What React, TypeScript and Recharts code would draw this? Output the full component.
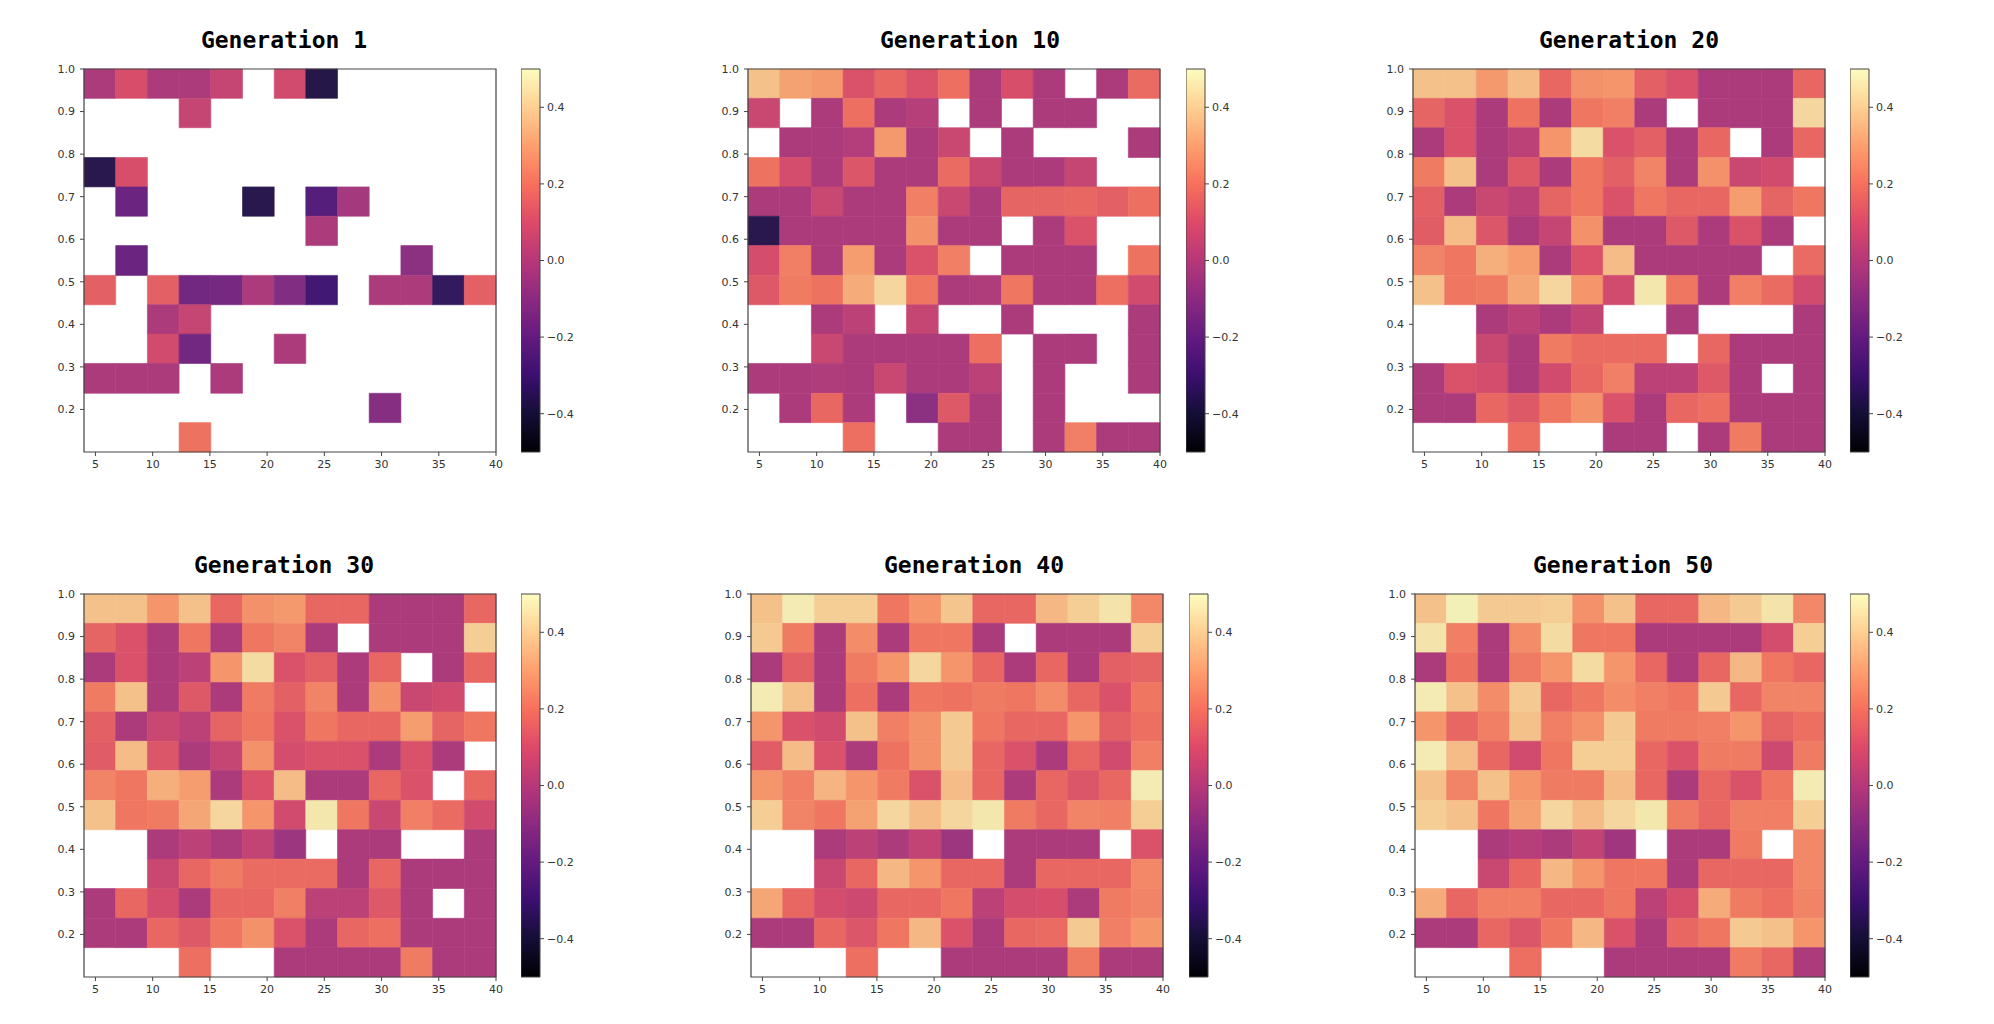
import React from "react";
import {
  ScatterChart,
  Scatter,
  XAxis,
  YAxis,
  ReferenceArea,
} from "recharts";

// grid edges (13 x 13 cells, x in [4, 40], y in [0.1, 1.0])
const X_EDGES = [4, 6.77, 9.54, 12.31, 15.08, 17.85, 20.62, 23.38, 26.15, 28.92, 31.69, 34.46, 37.23, 40];
const Y_EDGES = [1.0, 0.931, 0.862, 0.792, 0.723, 0.654, 0.585, 0.515, 0.446, 0.377, 0.308, 0.238, 0.169, 0.1];
const X_TICKS = [5, 10, 15, 20, 25, 30, 35, 40];
const Y_TICKS = [0.2, 0.3, 0.4, 0.5, 0.6, 0.7, 0.8, 0.9, 1.0];
const CB_TICKS = [-0.4, -0.2, 0, 0.2, 0.4];
const CB_RANGE = [-0.5, 0.5];

const _ = null;
const P = -0.02;

// rows listed top (y = 1.0) to bottom (y = 0.1)
const gen1 = [
  [P, 0.1, P, P, 0.05, _, 0.08, -0.38, _, _, _, _, _],
  [_, _, _, 0.05, _, _, _, _, _, _, _, _, _],
  [_, _, _, _, _, _, _, _, _, _, _, _, _],
  [-0.37, 0.1, _, _, _, _, _, _, _, _, _, _, _],
  [_, -0.19, _, _, _, -0.37, _, -0.25, -0.04, _, _, _, _],
  [_, _, _, _, _, _, _, -0.02, _, _, _, _, _],
  [_, -0.19, _, _, _, _, _, _, _, _, -0.1, _, _],
  [0.15, _, 0.15, -0.17, -0.16, -0.02, -0.13, -0.3, _, -0.02, -0.02, -0.34, 0.15],
  [_, _, -0.02, 0.05, _, _, _, _, _, _, _, _, _],
  [_, _, 0.08, -0.17, _, _, -0.02, _, _, _, _, _, _],
  [-0.02, -0.02, -0.02, _, -0.02, _, _, _, _, _, _, _, _],
  [_, _, _, _, _, _, _, _, _, -0.12, _, _, _],
  [_, _, _, 0.2, _, _, _, _, _, _, _, _, _],
];

const gen10 = [
  [0.38, 0.31, 0.29, 0.11, 0.17, 0.11, 0.19, P, 0.1, P, _, P, 0.18],
  [0.06, _, P, 0.19, P, 0.01, _, P, _, P, P, _, _],
  [_, P, P, 0.0, 0.29, P, 0.06, _, P, _, _, _, P],
  [0.2, 0.09, P, 0.12, P, P, 0.18, 0.06, P, P, 0.05, _, _],
  [P, P, 0.06, P, P, 0.23, 0.06, P, 0.16, 0.16, 0.17, 0.15, 0.19],
  [-0.37, P, P, P, P, 0.27, P, P, _, P, 0.11, _, _],
  [0.09, 0.23, P, 0.3, P, 0.11, 0.23, _, P, P, P, _, 0.2],
  [0.13, 0.22, 0.2, 0.33, 0.43, 0.21, P, -0.01, 0.21, P, P, 0.19, 0.08],
  [_, _, P, 0.02, _, 0.05, _, _, P, _, _, _, P],
  [_, _, 0.06, P, P, P, P, 0.19, _, P, P, _, P],
  [P, P, -0.01, P, 0.06, P, P, 0.02, _, P, _, _, P],
  [_, P, 0.17, P, _, -0.1, 0.13, P, _, P, _, _, _],
  [_, _, _, 0.19, _, _, P, P, _, P, 0.23, P, P],
];

const gen20 = [
  [0.38, 0.38, 0.29, 0.37, 0.17, 0.27, 0.28, 0.15, 0.11, P, P, P, 0.17],
  [0.16, 0.11, P, 0.2, P, 0.21, 0.23, P, _, P, P, P, 0.43],
  [P, 0.11, P, 0.02, 0.28, 0.44, 0.11, 0.15, P, 0.17, _, P, 0.17],
  [0.22, 0.38, P, 0.13, P, 0.21, 0.15, 0.24, P, 0.27, 0.06, 0.08, _],
  [0.15, P, 0.06, 0.02, 0.16, 0.21, 0.11, 0.21, 0.17, 0.17, 0.3, 0.16, 0.21],
  [0.14, 0.37, 0.12, P, 0.05, 0.27, P, P, 0.13, P, 0.11, P, _],
  [0.24, 0.21, 0.34, 0.3, P, 0.11, 0.37, P, P, P, P, _, 0.18],
  [0.38, 0.21, 0.22, 0.32, 0.43, 0.28, 0.08, 0.47, 0.21, P, 0.23, 0.18, 0.08],
  [_, _, P, 0.02, P, 0.04, _, _, P, _, _, _, P],
  [_, _, 0.06, P, 0.22, 0.18, 0.18, 0.18, _, 0.17, P, P, P],
  [P, 0.11, 0.09, P, 0.08, 0.17, 0.23, 0.02, 0.02, 0.13, P, _, P],
  [P, P, 0.17, 0.13, 0.21, 0.27, 0.11, P, 0.17, 0.19, P, P, P],
  [_, _, _, 0.19, _, _, P, P, _, P, 0.22, P, P],
];

const gen30 = [
  [0.38, 0.38, 0.28, 0.38, 0.17, 0.27, 0.29, 0.17, 0.17, P, P, P, 0.17],
  [0.16, 0.11, P, 0.21, P, 0.21, 0.24, P, _, P, P, P, 0.41],
  [P, 0.11, P, 0.02, 0.28, 0.44, 0.11, 0.15, P, 0.17, _, P, 0.17],
  [0.22, 0.38, P, 0.13, P, 0.22, 0.15, 0.24, P, 0.27, 0.06, 0.08, _],
  [0.15, P, 0.06, 0.02, 0.16, 0.21, 0.11, 0.21, 0.17, 0.17, 0.3, 0.16, 0.21],
  [0.14, 0.37, 0.12, P, 0.05, 0.27, 0.09, 0.11, 0.11, P, 0.11, P, _],
  [0.24, 0.21, 0.34, 0.3, P, 0.11, 0.37, P, P, 0.17, 0.11, _, 0.17],
  [0.38, 0.21, 0.22, 0.32, 0.43, 0.28, 0.08, 0.47, 0.21, 0.06, 0.23, 0.18, 0.08],
  [_, _, P, 0.02, P, 0.04, -0.06, _, P, P, _, _, P],
  [_, _, 0.06, 0.17, 0.22, 0.18, 0.18, 0.18, P, 0.17, P, P, P],
  [P, 0.17, 0.09, P, 0.17, 0.17, 0.23, 0.02, 0.02, 0.13, P, _, P],
  [P, P, 0.17, 0.13, 0.21, 0.27, 0.11, P, 0.17, 0.19, P, P, P],
  [_, _, _, 0.19, _, _, P, P, P, P, 0.22, P, P],
];

const gen40 = [
  [0.38, 0.48, 0.41, 0.41, 0.21, 0.28, 0.39, 0.17, 0.17, 0.36, 0.41, 0.46, 0.25],
  [0.4, 0.22, P, 0.26, P, 0.21, 0.21, P, _, P, P, P, 0.41],
  [P, 0.15, P, 0.22, 0.28, 0.43, 0.28, 0.17, P, 0.17, P, 0.15, 0.16],
  [0.48, 0.38, P, 0.19, P, 0.21, 0.2, 0.22, 0.21, 0.26, 0.17, 0.11, 0.21],
  [0.28, 0.11, 0.08, 0.38, 0.23, 0.27, 0.4, 0.21, 0.17, 0.17, 0.28, 0.15, 0.19],
  [0.14, 0.37, 0.11, P, 0.2, 0.27, 0.4, 0.17, 0.11, P, 0.17, 0.08, 0.23],
  [0.28, 0.23, 0.35, 0.28, 0.22, 0.11, 0.37, 0.17, P, 0.17, 0.12, 0.17, 0.48],
  [0.41, 0.24, 0.21, 0.31, 0.43, 0.37, 0.43, 0.47, 0.22, 0.17, 0.24, 0.23, 0.41],
  [_, _, P, 0.02, P, 0.04, -0.06, _, P, P, P, _, 0.11],
  [_, _, 0.06, 0.17, 0.36, 0.28, 0.17, 0.17, P, 0.17, 0.17, 0.17, 0.25],
  [0.32, 0.17, 0.09, 0.07, 0.17, 0.17, 0.21, 0.02, 0.09, 0.1, P, 0.22, 0.24],
  [P, P, 0.17, 0.12, 0.21, 0.36, 0.11, P, 0.17, 0.18, 0.4, 0.23, 0.28],
  [_, _, _, 0.19, _, _, P, P, P, P, 0.22, P, P],
];

const gen50 = [
  [0.38, 0.49, 0.4, 0.4, 0.41, 0.27, 0.38, 0.17, 0.17, 0.36, 0.4, 0.46, 0.25],
  [0.46, 0.23, P, 0.26, 0.44, 0.21, 0.21, P, P, P, P, 0.09, 0.41],
  [P, 0.2, P, 0.22, 0.28, 0.44, 0.28, 0.17, P, 0.17, 0.36, 0.21, 0.17],
  [0.48, 0.38, 0.26, 0.4, 0.17, 0.21, 0.26, 0.23, 0.21, 0.4, 0.17, 0.24, 0.24],
  [0.28, 0.17, 0.23, 0.38, 0.23, 0.27, 0.4, 0.22, 0.22, 0.23, 0.28, 0.16, 0.19],
  [0.48, 0.37, 0.17, 0.08, 0.21, 0.41, 0.41, 0.17, 0.11, 0.22, 0.22, 0.07, 0.22],
  [0.38, 0.24, 0.38, 0.28, 0.22, 0.22, 0.37, 0.17, P, 0.17, 0.11, 0.21, 0.48],
  [0.41, 0.38, 0.21, 0.31, 0.43, 0.37, 0.43, 0.47, 0.22, 0.17, 0.23, 0.23, 0.41],
  [_, _, P, 0.01, P, 0.04, -0.05, _, P, P, 0.22, _, 0.25],
  [_, _, 0.06, 0.17, 0.36, 0.28, 0.21, 0.21, P, 0.17, 0.17, 0.17, 0.25],
  [0.33, 0.17, 0.23, 0.23, 0.17, 0.17, 0.21, 0.02, 0.1, 0.33, 0.22, 0.19, 0.24],
  [P, P, 0.17, 0.12, 0.21, 0.36, 0.11, P, 0.17, 0.21, 0.4, 0.38, 0.28],
  [_, _, _, 0.19, _, _, P, P, P, P, 0.22, 0.17, P],
];

const TITLES = ["Generation 1", "Generation 10", "Generation 20", "Generation 30", "Generation 40", "Generation 50"];
const GRIDS = [gen1, gen10, gen20, gen30, gen40, gen50];

// magma, 11 stops from 0 to 1
const MAGMA = ["#000004", "#140e36", "#3b0f70", "#641a80", "#8c2981", "#b73779", "#de4968", "#f7705c", "#fe9f6d", "#fecf92", "#fcfdbf"];

function hexToRgb(h: string) {
  return [parseInt(h.slice(1, 3), 16), parseInt(h.slice(3, 5), 16), parseInt(h.slice(5, 7), 16)];
}

// cells look a touch muted compared with the colourbar
function magma(v: number, mute = 0) {
  const t = Math.min(1, Math.max(0, v + 0.5)) * (MAGMA.length - 1);
  const i = Math.min(MAGMA.length - 2, Math.floor(t));
  const f = t - i;
  const a = hexToRgb(MAGMA[i]);
  const b = hexToRgb(MAGMA[i + 1]);
  const c = a.map((x, k) => {
    const raw = x + (b[k] - x) * f;
    return Math.round(raw * (1 - mute) + 140 * mute);
  });
  return `rgb(${c[0]},${c[1]},${c[2]})`;
}

const fmt = (v: number) => (v < 0 ? `\u2212${Math.abs(v).toFixed(1)}` : v.toFixed(1));

const TICK = { fill: "#333", fontSize: 11, fontFamily: "DejaVu Sans" };
const AXIS_COLOR = "#444";

// layout: plot left, plot top, plot width, colorbar left, title center
const PANELS = [
  { px: 84, py: 69, pw: 412, cb: 521, tc: 284 },
  { px: 748, py: 69, pw: 412, cb: 1186, tc: 970 },
  { px: 1413, py: 69, pw: 412, cb: 1850, tc: 1629 },
  { px: 84, py: 594, pw: 412, cb: 521, tc: 284 },
  { px: 751, py: 594, pw: 412, cb: 1189, tc: 974 },
  { px: 1415, py: 594, pw: 410, cb: 1850, tc: 1623 },
];
const PH = 383;
const YW = 45;
const CBW = 19;

function Heatmap({ grid, idx }: { grid: (number | null)[][]; idx: number }) {
  const p = PANELS[idx];
  const centers: { x: number; y: number; v: number }[] = [];
  const cells: React.ReactNode[] = [];
  grid.forEach((row, r) =>
    row.forEach((v, c) => {
      if (v === null) return;
      const col = magma(v, 0.08);
      centers.push({ x: (X_EDGES[c] + X_EDGES[c + 1]) / 2, y: (Y_EDGES[r] + Y_EDGES[r + 1]) / 2, v });
      cells.push(
        <ReferenceArea
          key={`${r}-${c}`}
          x1={X_EDGES[c]}
          x2={X_EDGES[c + 1]}
          y1={Y_EDGES[r + 1]}
          y2={Y_EDGES[r]}
          fill={col}
          fillOpacity={1}
          stroke={col}
          strokeWidth={0.6}
        />
      );
    })
  );
  return (
    <div style={{ position: "absolute", left: p.px - YW, top: p.py - 10 }}>
      <ScatterChart
        width={YW + p.pw + 10}
        height={10 + PH + 30}
        margin={{ top: 10, right: 10, bottom: 0, left: 0 }}
      >
        <XAxis
          type="number"
          dataKey="x"
          domain={[4, 40]}
          ticks={X_TICKS}
          allowDataOverflow
          axisLine={false}
          tickLine={{ stroke: AXIS_COLOR }}
          tickSize={4}
          tickMargin={4}
          height={30}
          tick={TICK}
        />
        <YAxis
          type="number"
          dataKey="y"
          domain={[0.1, 1.0]}
          ticks={Y_TICKS}
          allowDataOverflow
          axisLine={false}
          tickLine={{ stroke: AXIS_COLOR }}
          tickSize={4}
          tickMargin={5}
          width={YW}
          tick={TICK}
          tickFormatter={(v: number) => v.toFixed(1)}
        />
        {cells}
        <ReferenceArea x1={4} x2={40} y1={0.1} y2={1.0} fill="none" stroke={AXIS_COLOR} strokeWidth={1.2} />
        <Scatter data={centers} isAnimationActive={false} shape={() => <g />} />
      </ScatterChart>
    </div>
  );
}

function Colorbar({ idx }: { idx: number }) {
  const p = PANELS[idx];
  const gid = `magma-grad-${idx}`;
  const ends = [
    { x: 0, y: CB_RANGE[0] },
    { x: 1, y: CB_RANGE[1] },
  ];
  return (
    <div style={{ position: "absolute", left: p.cb, top: p.py - 10 }}>
      <ScatterChart width={CBW + 50} height={PH + 20} margin={{ top: 10, right: 0, bottom: 10, left: 0 }}>
        <defs>
          <linearGradient id={gid} x1="0" y1="1" x2="0" y2="0">
            {MAGMA.map((c, i) => (
              <stop key={i} offset={`${(i / (MAGMA.length - 1)) * 100}%`} stopColor={c} />
            ))}
          </linearGradient>
        </defs>
        <XAxis type="number" dataKey="x" domain={[0, 1]} allowDataOverflow hide />
        <YAxis
          type="number"
          dataKey="y"
          orientation="right"
          domain={CB_RANGE}
          ticks={CB_TICKS}
          allowDataOverflow
          axisLine={false}
          tickLine={{ stroke: AXIS_COLOR }}
          tickSize={4}
          tickMargin={3}
          width={50}
          tick={TICK}
          tickFormatter={fmt}
        />
        <ReferenceArea
          x1={0}
          x2={1}
          y1={CB_RANGE[0]}
          y2={CB_RANGE[1]}
          fill={`url(#${gid})`}
          fillOpacity={1}
          stroke={AXIS_COLOR}
          strokeWidth={1}
        />
        <Scatter data={ends} isAnimationActive={false} shape={() => <g />} />
      </ScatterChart>
    </div>
  );
}

export default function App() {
  return (
    <div style={{ position: "absolute", left: 0, top: 0, width: 1994, height: 1024, background: "#fff", overflow: "hidden" }}>
      {GRIDS.map((g, i) => (
        <React.Fragment key={i}>
          <div
            style={{
              position: "absolute",
              left: PANELS[i].tc,
              top: PANELS[i].py - 40,
              transform: "translateX(-50%)",
              fontFamily: "DejaVu Sans Mono",
              fontWeight: "bold",
              fontSize: 23,
              lineHeight: "23px",
              whiteSpace: "nowrap",
              color: "#000",
            }}
          >
            {TITLES[i]}
          </div>
          <Heatmap grid={g} idx={i} />
          <Colorbar idx={i} />
        </React.Fragment>
      ))}
    </div>
  );
}
